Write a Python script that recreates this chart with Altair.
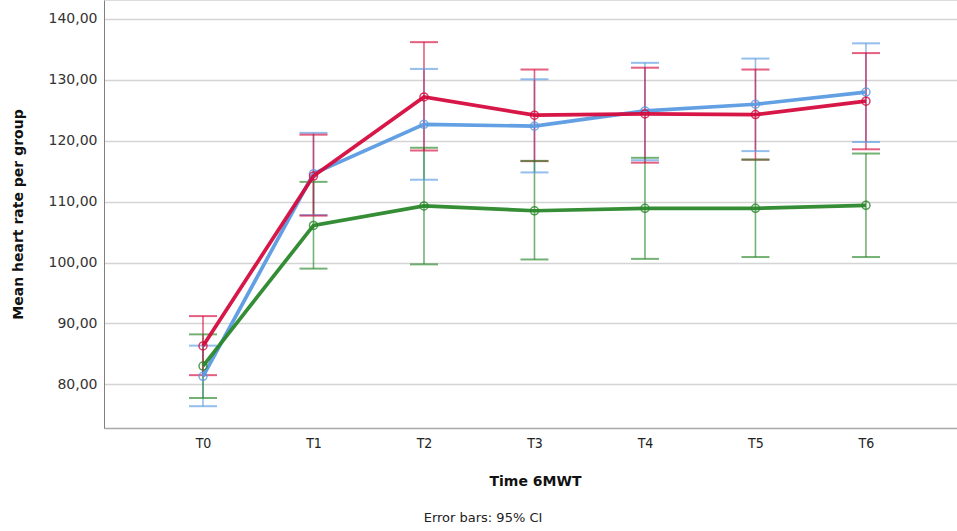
import altair as alt
import pandas as pd

times = ["T0", "T1", "T2", "T3", "T4", "T5", "T6"]
groups = ["Group 1", "Group 2", "Group 3"]
colors = ["#5A9BE2", "#2A872A", "#D50B3D"]

blue_mean = [81.3, 114.6, 122.7, 122.4, 124.9, 126.0, 128.0]
blue_lo = [76.4, 107.8, 113.6, 114.8, 116.8, 118.3, 119.8]
blue_hi = [86.35, 121.3, 131.8, 130.1, 132.8, 133.5, 136.0]

green_mean = [83.0, 106.1, 109.3, 108.5, 108.9, 108.9, 109.4]
green_lo = [77.75, 99.0, 99.7, 100.5, 100.6, 100.9, 100.9]
green_hi = [88.2, 113.25, 118.85, 116.7, 117.2, 116.9, 117.9]

red_mean = [86.3, 114.2, 127.2, 124.2, 124.4, 124.3, 126.5]
red_lo = [81.5, 107.7, 118.4, 116.65, 116.4, 116.9, 118.6]
red_hi = [91.2, 121.0, 136.2, 131.7, 132.0, 131.7, 134.4]

x_title = "Time 6MWT"
y_title = "Mean heart rate per group"
footnote = "Error bars: 95% CI"

rows = []
for g, m, lo, hi in zip(groups,
                        [blue_mean, green_mean, red_mean],
                        [blue_lo, green_lo, red_lo],
                        [blue_hi, green_hi, red_hi]):
    for i, t in enumerate(times):
        rows.append({"group": g, "idx": i, "time": t, "mean": m[i], "lo": lo[i], "hi": hi[i]})
df = pd.DataFrame(rows)

label_list = "[" + ",".join("'" + t + "'" for t in times) + "]"

xs = alt.X("idx:Q",
           scale=alt.Scale(domain=[-0.896, 6.824], nice=False, zero=False),
           axis=alt.Axis(title=x_title, values=list(range(len(times))),
                         labelExpr=label_list + "[datum.value]",
                         grid=False, ticks=False, labelPadding=8,
                         labelFont="DejaVu Sans Condensed, DejaVu Sans", labelFontSize=14,
                         labelColor="#222222",
                         titleFont="DejaVu Sans", titleFontSize=14, titleFontWeight="bold",
                         titleColor="#111111", titleX=431, titleY=53, titleBaseline="middle",
                         domainColor="#a8a8a8", domainWidth=1.5))
ys = alt.Y("mean:Q",
           scale=alt.Scale(domain=[72.82, 143.12], nice=False, zero=False),
           axis=alt.Axis(title=y_title, values=[80, 90, 100, 110, 120, 130, 140],
                         labelExpr="replace(format(datum.value, '.2f'), '.', ',')",
                         ticks=False, labelPadding=7, grid=True,
                         gridColor="#d4d4d4", gridWidth=1.5,
                         labelFont="DejaVu Sans", labelFontSize=14, labelColor="#333333",
                         titleFont="DejaVu Sans", titleFontSize=14, titleFontWeight="bold",
                         titleColor="#111111", titleX=-86, titleY=214,
                         titleBaseline="middle", titleAlign="center",
                         domainColor="#808080", domainWidth=1))
color = alt.Color("group:N", scale=alt.Scale(domain=groups, range=colors), legend=None)

base = alt.Chart(df)

bars = base.mark_rule(strokeWidth=1.6, opacity=0.65).encode(
    x=xs, y=alt.Y("lo:Q"), y2="hi:Q", color=color)
caps_lo = base.mark_tick(orient="horizontal", size=28, thickness=2, opacity=0.65).encode(
    x=xs, y=alt.Y("lo:Q"), color=color)
caps_hi = base.mark_tick(orient="horizontal", size=28, thickness=2, opacity=0.65).encode(
    x=xs, y=alt.Y("hi:Q"), color=color)

lines = []
for g in groups:
    sub = alt.Chart(df[df["group"] == g])
    lines.append(sub.mark_line(strokeWidth=3.7, opacity=0.95).encode(x=xs, y=ys, color=color))
    lines.append(sub.mark_point(filled=False, size=64, strokeWidth=1.5, opacity=0.8).encode(
        x=xs, y=ys, color=color))

note = alt.Chart(pd.DataFrame({"t": [footnote]})).mark_text(
    font="DejaVu Sans", fontSize=13, color="#222222", align="center", baseline="middle"
).encode(x=alt.value(379), y=alt.value(518), text="t:N")

chart = alt.layer(bars, caps_lo, caps_hi, *lines, note).properties(
    width=853, height=428,
    autosize=alt.AutoSizeParams(type="none"),
    padding={"left": 104, "top": 0, "right": 0, "bottom": 96},
).configure_view(stroke=None).configure(background="white")

chart.save("out.html", embed_options={"renderer": "svg", "actions": False})
